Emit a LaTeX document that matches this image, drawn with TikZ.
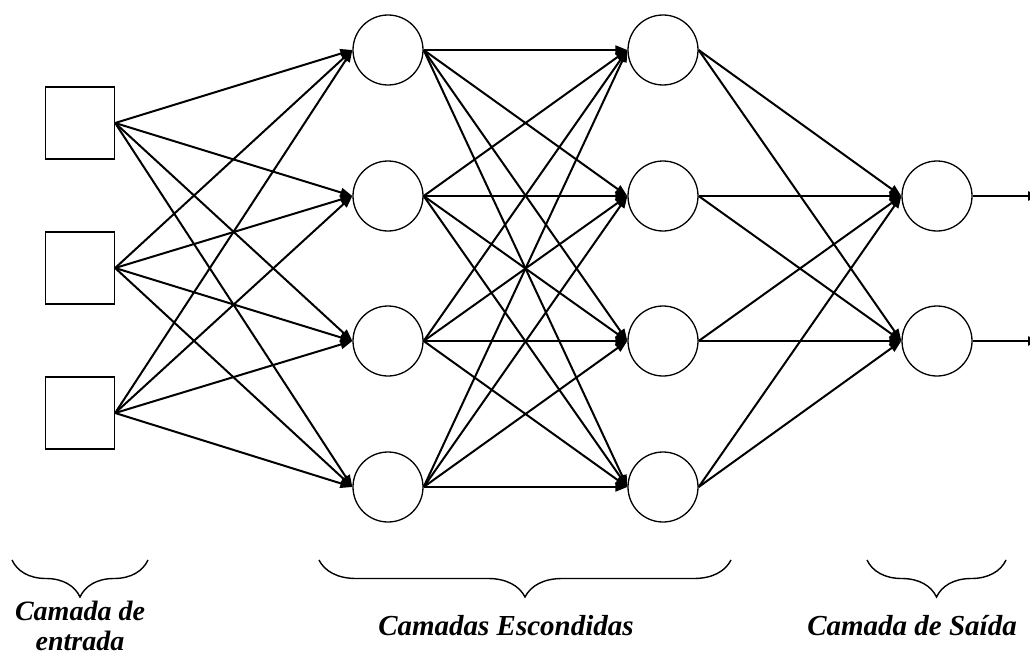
\documentclass[tikz,border=0pt]{standalone}
\usepackage{fontspec}
\setmainfont{Liberation Serif}
\usetikzlibrary{arrows.meta,decorations.pathreplacing}

\begin{document}
\begin{tikzpicture}[x=1pt,y=-1pt,
  inp/.style={draw,line width=1.3pt,minimum width=69pt,minimum height=72pt,inner sep=0pt},
  neu/.style={draw,circle,line width=1.3pt,minimum size=70pt,inner sep=0pt},
  syn/.style={line width=2pt,-{Triangle[length=12pt,width=9pt]}},
  brc/.style={line width=1.4pt,decorate,decoration={brace,mirror,amplitude=37pt}},
  lbl/.style={font=\fontsize{29}{31}\selectfont\bfseries\itshape,inner sep=0pt,align=center}]
  \useasboundingbox (0,0) rectangle (1030,666);
  % camada de entrada
  \node[inp] (i1) at (80,123) {};
  \node[inp] (i2) at (80,268) {};
  \node[inp] (i3) at (80,413) {};
  % camadas escondidas
  \node[neu] (a1) at (388,50) {};
  \node[neu] (a2) at (388,196) {};
  \node[neu] (a3) at (388,341) {};
  \node[neu] (a4) at (388,487) {};
  \node[neu] (b1) at (663,50) {};
  \node[neu] (b2) at (663,196) {};
  \node[neu] (b3) at (663,341) {};
  \node[neu] (b4) at (663,487) {};
  % camada de saida
  \node[neu] (o1) at (937,196) {};
  \node[neu] (o2) at (937,341) {};
  \coordinate (e1) at (1040,196);
  \coordinate (e2) at (1040,341);
  % ligacoes
  \foreach \i in {1,2,3}
    \foreach \j in {1,2,3,4}
      \draw[syn] (i\i.east) -- (a\j.west);
  \foreach \i in {1,2,3,4}
    \foreach \j in {1,2,3,4}
      \draw[syn] (a\i.east) -- (b\j.west);
  \foreach \i in {1,2,3,4}
    \foreach \j in {1,2}
      \draw[syn] (b\i.east) -- (o\j.west);
  \draw[syn] (o1.east) -- (e1);
  \draw[syn] (o2.east) -- (e2);
  % chaves
  \draw[brc] (12,560) -- (148,560);
  \draw[brc] (319,560) -- (731,560);
  \draw[brc] (867,560) -- (1006,560);
  \node[lbl,anchor=north,font=\fontsize{28}{30}\selectfont\bfseries\itshape] (tin) at (80,601) {Camada de\\entrada};
  \node[lbl,anchor=base] (thid) at (506,635) {Camadas Escondidas};
  \node[lbl,anchor=base] (tout) at (912,635) {Camada de Saída};
\end{tikzpicture}
\end{document}
